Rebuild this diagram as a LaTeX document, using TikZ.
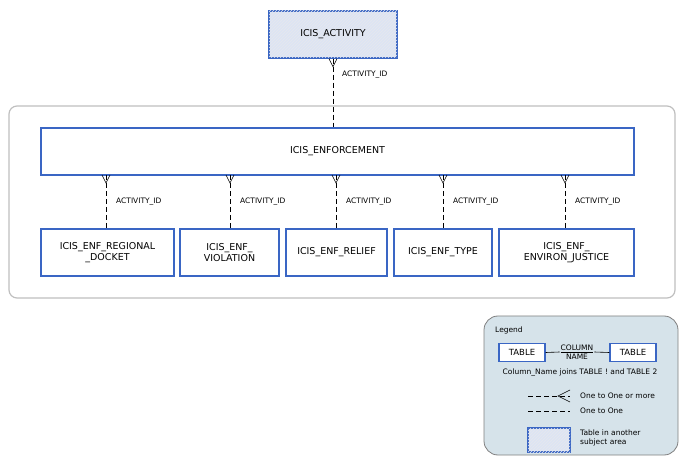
\documentclass[tikz,border=0pt]{standalone}
\usepackage{fontspec}
\setmainfont{DejaVu Sans}
\usetikzlibrary{patterns}
\definecolor{bd}{HTML}{3A66C4}
\definecolor{hf}{HTML}{DDE4F4}
\definecolor{lg}{HTML}{D6E3EA}
\begin{document}
\begin{tikzpicture}[x=1pt,y=-1pt,
 tbl/.style={draw=bd,line width=1.4pt,fill=white,inner sep=0pt,font=\fontsize{9.5}{11}\selectfont,align=center},
 ext/.style={tbl,fill=hf,postaction={pattern=north east lines,pattern color=hf!70!gray!40!white}},
 rel/.style={dashed,dash pattern=on 5pt off 3pt,line width=0.8pt},
 lbl/.style={font=\fontsize{7.5}{9}\selectfont,anchor=west,inner sep=0pt}]
\useasboundingbox (0,0) rectangle (686,473);
\draw[gray!50,line width=1.2pt,rounded corners=8pt] (9,106) rectangle (675,298);
\node[ext,minimum width=128pt,minimum height=47pt] (act) at (333,34.5) {ICIS\_ACTIVITY};
\node[tbl,minimum width=593pt,minimum height=47pt] (enf) at (337.5,151.5) {ICIS\_ENFORCEMENT};
\node[tbl,minimum width=133pt,minimum height=47pt] (c1) at (107.5,252.5) {ICIS\_ENF\_REGIONAL\\\_DOCKET};
\node[tbl,minimum width=99pt,minimum height=47pt] (c2) at (229.5,252.5) {ICIS\_ENF\_\\VIOLATION};
\node[tbl,minimum width=101pt,minimum height=47pt] (c3) at (336.5,252.5) {ICIS\_ENF\_RELIEF};
\node[tbl,minimum width=98pt,minimum height=47pt] (c4) at (443,252.5) {ICIS\_ENF\_TYPE};
\node[tbl,minimum width=135pt,minimum height=47pt] (c5) at (566.5,252.5) {ICIS\_ENF\_\\ENVIRON\_JUSTICE};
% connectors
\draw[rel] (act.south) -- (act.south |- enf.north);
\draw[line width=0.6pt] (act.south) ++(-4,0) -- ++(4,8) -- ++(4,-8);
\node[lbl] at (342,75) {ACTIVITY\_ID};
\foreach \c/\x in {c1/106,c2/230,c3/336,c4/443,c5/565}{
 \coordinate (t) at (\x,175);
 \draw[rel] (t) -- (t |- \c.north);
 \draw[line width=0.6pt] (t) ++(-4,0) -- ++(4,8) -- ++(4,-8);
 \node[lbl] at (\x+10,202) {ACTIVITY\_ID};
}
% legend
\draw[gray,line width=0.8pt,fill=lg,rounded corners=14pt] (484,316) rectangle (678,455);
\node[lbl] at (495,330) {Legend};
\node[tbl,minimum width=46pt,minimum height=18pt,font=\fontsize{8.5}{9}\selectfont] (t1) at (522,352.5) {TABLE};
\node[tbl,minimum width=46pt,minimum height=18pt,font=\fontsize{8.5}{9}\selectfont] (t2) at (633,352.5) {TABLE};
\node[font=\fontsize{7.5}{8.5}\selectfont,inner sep=1pt,align=center] (cn) at (577,352) {\underline{COLUMN}\\NAME};
\draw[line width=0.6pt] (t1.east) -- (cn.west);
\draw[line width=0.6pt] (cn.east) -- (t2.west);
\node[font=\fontsize{7.5}{8.5}\selectfont,inner sep=0pt] at (580,373) {Column\_Name joins TABLE ! and TABLE 2};
\coordinate (l1a) at (528,396); \coordinate (l1b) at (570,396);
\draw[rel,line width=0.6pt] (l1a) -- (l1b);
\draw[line width=0.6pt] (570,390) -- (558,396) -- (570,402);
\node[lbl] at (580,396) {One to One or more};
\coordinate (l2a) at (528,411); \coordinate (l2b) at (570,411);
\draw[rel,line width=0.6pt] (l2a) -- (l2b);
\node[lbl] at (580,411) {One to One};
\node[ext,minimum width=42pt,minimum height=24pt] (lx) at (549,440) {};
\node[lbl,align=left] at (580,438) {Table in another\\subject area};
\end{tikzpicture}
\end{document}
